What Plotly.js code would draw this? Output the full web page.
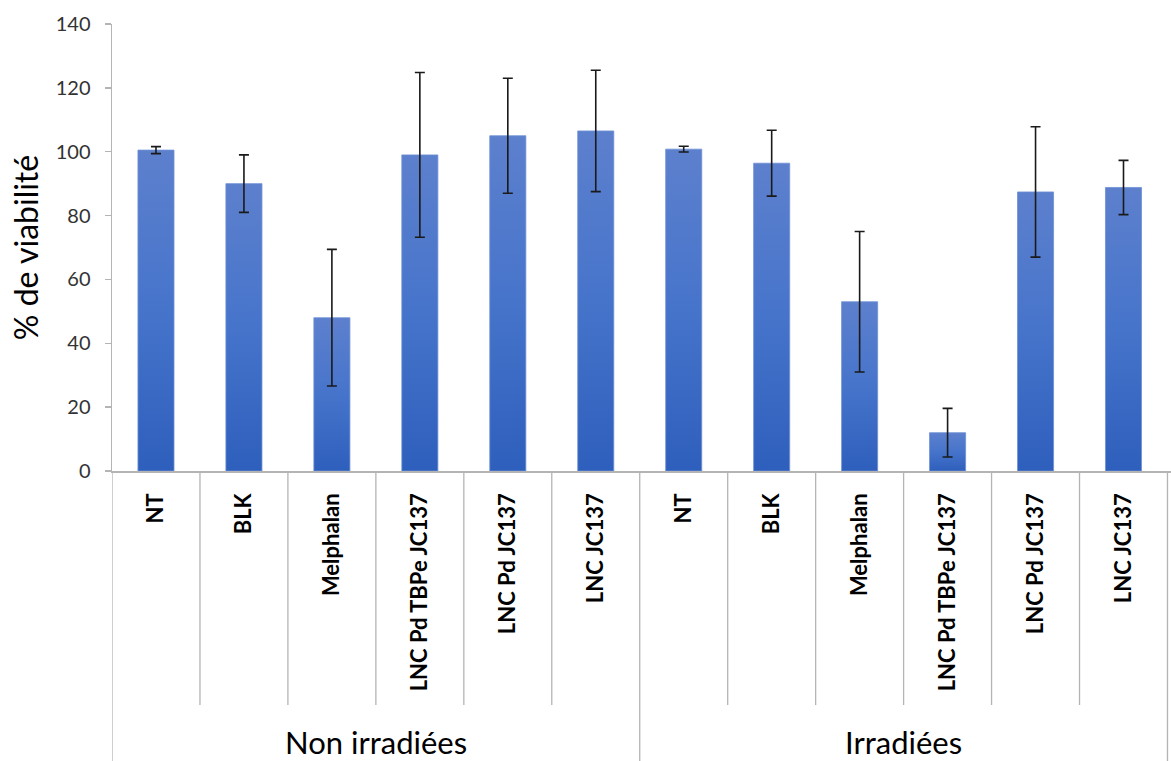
<!DOCTYPE html>
<html>
<head>
<meta charset="utf-8">
<script src="https://cdn.plot.ly/plotly-3.0.1.min.js"></script>
<style>
html,body{margin:0;padding:0;background:#fff;}
#chart{width:1171px;height:761px;}
</style>
</head>
<body>
<div id="chart"></div>
<script>
// ---- data ----
const groups = ["Non irradiées", "Irradiées"];
const treatments = ["NT", "BLK", "Melphalan", "LNC Pd TBPe JC137", "LNC Pd JC137", "LNC JC137"];
const viabNonIrr = [100.5, 90, 48, 99, 105, 106.5];
const errNonIrr  = [1.1, 9, 21.4, 25.8, 18, 19];
const viabIrr    = [100.8, 96.4, 53, 12, 87.4, 88.8];
const errIrr     = [0.9, 10.3, 22, 7.6, 20.4, 8.5];
const yTicks = [0, 20, 40, 60, 80, 100, 120, 140];

// ---- build ----
const labels = treatments.concat(treatments);
const values = viabNonIrr.concat(viabIrr);
const errors = errNonIrr.concat(errIrr);
const xs = labels.map((_, i) => i);
const n = labels.length;
const perGroup = treatments.length;

const plotTop = 24, plotBottom = 471;
const plotH = plotBottom - plotTop;
const innerDivY = -(705 - plotBottom) / plotH;
const groupDivY = -(761 - plotBottom) / plotH;
const groupLabelY = -(742 - plotBottom) / plotH;

const shapes = [];
for (let i = 0; i < n - 1; i++) {
  const isGroup = (i + 1) % perGroup === 0;
  shapes.push({type:'line', xref:'x', yref:'paper', x0:i+0.5, x1:i+0.5, y0:0, y1: isGroup ? groupDivY : innerDivY,
    line:{color:'#b4b4b4', width:1.3}});
}
shapes.push({type:'line', xref:'x', yref:'paper', x0:-0.5, x1:-0.5, y0:0, y1:groupDivY, line:{color:'#b4b4b4', width:1.3}});
shapes.push({type:'line', xref:'x', yref:'paper', x0:n-0.5, x1:n-0.5, y0:0, y1:groupDivY, line:{color:'#b4b4b4', width:1.3}});

const annotations = groups.map((g, gi) => ({
  text: g, xref:'x', yref:'paper', x: gi*perGroup + (perGroup-1)/2, y: groupLabelY,
  xanchor:'center', yanchor:'middle', showarrow:false,
  font:{family:'Lato, "Open Sans", sans-serif', size:31, color:'#000'}
}));

const trace = {
  type:'bar', x: xs, y: values,
  marker:{color:'#4472c4', line:{color:'#6d8fd6', width:0.8}},
  error_y:{type:'data', array: errors, visible:true, color:'#1a1a1a', thickness:1.6, width:5},
  hoverinfo:'y'
};

const layout = {
  width:1171, height:761,
  margin:{l:112, r:0, t:plotTop, b:761-plotBottom},
  paper_bgcolor:'#fff', plot_bgcolor:'#fff',
  showlegend:false,
  bargap:0.59,
  font:{family:'Lato, "Open Sans", sans-serif'},
  xaxis:{
    range:[-0.5, n - 0.46],
    tickmode:'array', tickvals: xs, ticktext: labels,
    tickangle:-90, ticks:'', showgrid:false, zeroline:false,
    showline:true, linecolor:'#b4b4b4', linewidth:1.5,
    tickfont:{family:'Lato, "Open Sans", sans-serif', size:22, color:'#000', weight:'bold'},
    ticklabelstandoff: 12,
    fixedrange:true
  },
  yaxis:{
    range:[0, 140], tickmode:'array', tickvals: yTicks,
    ticks:'outside', ticklen:6, tickcolor:'#b4b4b4', tickwidth:1.3,
    showline:true, linecolor:'#b4b4b4', linewidth:1.5,
    showgrid:false, zeroline:false,
    tickfont:{family:'Lato, "Open Sans", sans-serif', size:20, color:'#333333'},
    ticklabelstandoff: 10,
    title:{text:'% de viabilité', font:{family:'Lato, "Open Sans", sans-serif', size:32, color:'#000'}, standoff:7},
    fixedrange:true
  },
  shapes: shapes,
  annotations: annotations
};

Plotly.newPlot('chart', [trace], layout, {displayModeBar:false, staticPlot:true}).then(gd => {
  const svg = gd.querySelector('svg.main-svg');
  const ns = 'http://www.w3.org/2000/svg';
  let defs = svg.querySelector('defs');
  if (!defs) { defs = document.createElementNS(ns, 'defs'); svg.insertBefore(defs, svg.firstChild); }
  const lg = document.createElementNS(ns, 'linearGradient');
  lg.setAttribute('id', 'barGrad');
  lg.setAttribute('x1', '0'); lg.setAttribute('y1', '0');
  lg.setAttribute('x2', '0'); lg.setAttribute('y2', '1');
  [['0', '#5d80cd'], ['0.5', '#4674cb'], ['1', '#2e5fbc']].forEach(([o, c]) => {
    const s = document.createElementNS(ns, 'stop');
    s.setAttribute('offset', o); s.setAttribute('stop-color', c);
    lg.appendChild(s);
  });
  defs.appendChild(lg);
  gd.querySelectorAll('.trace.bars .point path').forEach(p => { p.style.fill = 'url(#barGrad)'; });
});
</script>
</body>
</html>
